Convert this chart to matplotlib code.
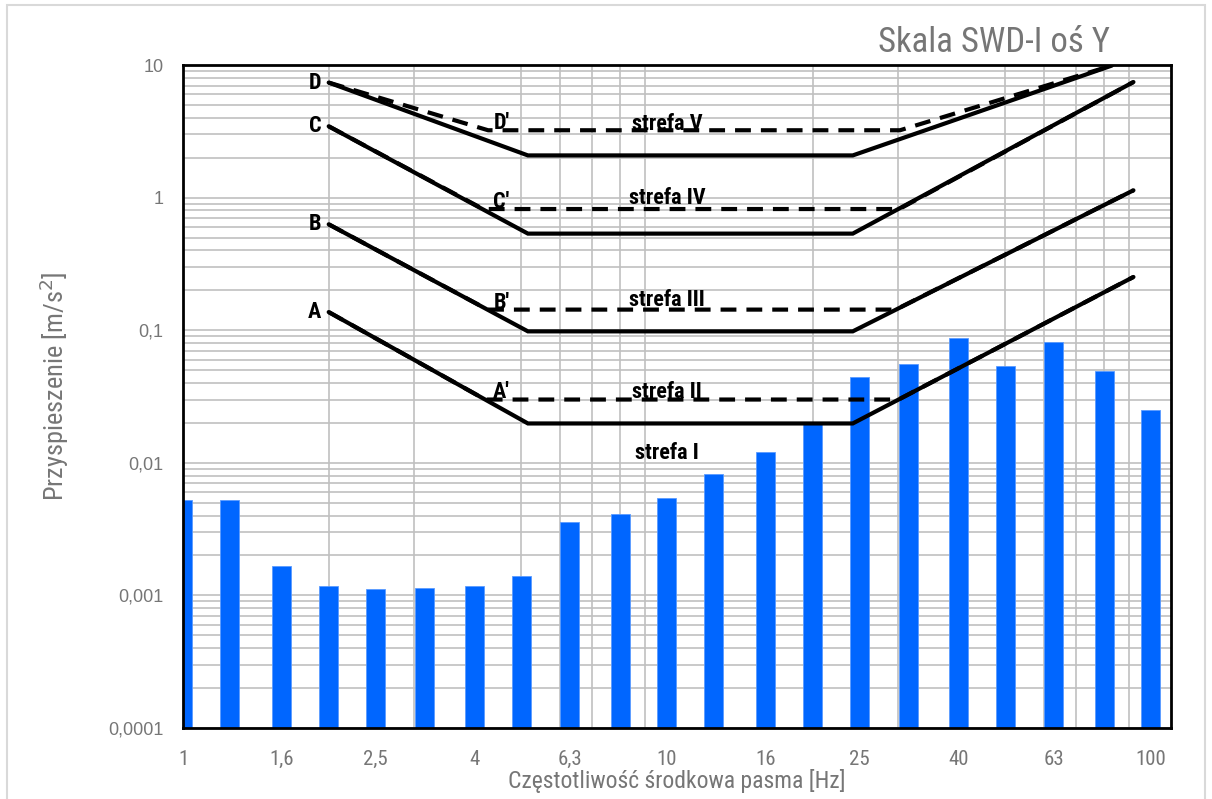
import numpy as np
import matplotlib
matplotlib.use("Agg")
import matplotlib.pyplot as plt
from matplotlib import font_manager as fm
from matplotlib.ticker import FixedLocator, FixedFormatter, LogLocator, NullFormatter
from matplotlib.patches import Rectangle

# ── Data ───────────────────────────────────────────────────────────────────────
# 1/3-octave band centre frequencies [Hz] and measured acceleration [m/s2]
freqs = [1, 1.25, 1.6, 2, 2.5, 3.15, 4, 5, 6.3, 8, 10, 12.5, 16, 20, 25,
         31.5, 40, 50, 63, 80, 100]
accel = [0.0052, 0.0052, 0.00166, 0.00118, 0.00111, 0.00113, 0.00118,
         0.00139, 0.0036, 0.0041, 0.0054, 0.0082, 0.0120, 0.0195, 0.044,
         0.056, 0.088, 0.0535, 0.082, 0.049, 0.025]

x_ticks = [1, 1.6, 2.5, 4, 6.3, 10, 16, 25, 40, 63, 100]
x_ticklabels = ['1', '1,6', '2,5', '4', '6,3', '10', '16', '25', '40', '63', '100']
y_ticks = [1e-4, 1e-3, 1e-2, 1e-1, 1, 10]
y_ticklabels = ['0,0001', '0,001', '0,01', '0,1', '1', '10']

# SWD-I zone boundaries A-D (solid)
bound_f = [2, 5.16, 24.2, 92]
bound_A = [0.137, 0.0198, 0.0198, 0.252]
bound_B = [0.629, 0.098, 0.098, 1.135]
bound_C = [3.45, 0.535, 0.535, 7.44]
bound_D_f = [2, 5.16, 24.2, 83]
bound_D = [7.37, 2.08, 2.08, 9.9]

# zone boundaries A'-D' (dashed)
bound_A2_f = [2, 4.21, 30.1, 92]
bound_A2 = [0.137, 0.030, 0.030, 0.252]
bound_B2_f = [2, 4.26, 29.7, 92]
bound_B2 = [0.629, 0.143, 0.143, 1.135]
bound_C2_f = [2, 4.17, 30.2, 92]
bound_C2 = [3.45, 0.82, 0.82, 7.44]
bound_D2_f = [2, 4.27, 30.3, 83]
bound_D2 = [7.37, 3.22, 3.22, 9.9]

zone_names = ['strefa V', 'strefa IV', 'strefa III', 'strefa II', 'strefa I']
zone_y = [3.6, 0.99, 0.168, 0.034, 0.0118]


# ── Fonts: look for a narrow sans, fall back to DejaVu ─────────────────────────
def find_narrow(weight):
    prefs = ['Liberation Sans Narrow', 'Roboto Condensed', 'Open Sans Condensed',
             'Noto Sans Condensed', 'DejaVu Sans', 'Noto Sans', 'Open Sans',
             'Roboto', 'Inter', 'Lato']
    cands = []
    for e in fm.fontManager.ttflist:
        fname = e.fname.lower()
        narrow = (e.stretch in ('condensed', 'semi-condensed', 'extra-condensed')
                  or 'condensed' in fname or 'narrow' in fname)
        if not narrow or 'italic' in fname or 'oblique' in fname or e.style != 'normal':
            continue
        w = e.weight if isinstance(e.weight, int) else (700 if 'bold' in str(e.weight) else 400)
        rank = prefs.index(e.name) if e.name in prefs else len(prefs)
        cands.append((rank, abs(w - weight), e.fname))
    if cands:
        cands.sort()
        return fm.FontProperties(fname=cands[0][2])
    return fm.FontProperties(family='DejaVu Sans', weight=weight)


def sized(base, size):
    p = base.copy()
    p.set_size(size)
    return p


NARROW = find_narrow(400)
NARROW_B = find_narrow(700)
REG = fm.FontProperties(family=['Liberation Sans', 'DejaVu Sans'])

BLUE = '#0066ff'
GRID = '#c0c0c0'
TXT = '#767676'

fig = plt.figure(figsize=(12.12, 7.99), dpi=100)
ax = fig.add_axes([183 / 1212, 71 / 799, 988 / 1212, 663 / 799])

ax.set_xscale('log')
ax.set_yscale('log')
ax.set_xlim(1, 110)
ax.set_ylim(1e-4, 10)

# bars: constant pixel width on the log axis
f = np.array(freqs)
half = 10 ** 0.0196
ax.bar(f / half, accel, width=f * half - f / half, align='edge',
       color=BLUE, edgecolor='#5a9bff', linewidth=0.6, zorder=2)

solid = dict(color='black', lw=3, solid_capstyle='round', solid_joinstyle='miter', zorder=4)
dashed = dict(color='black', lw=3, ls=(0, (3.8, 2.4)), zorder=5)
ax.plot(bound_f, bound_A, **solid)
ax.plot(bound_f, bound_B, **solid)
ax.plot(bound_f, bound_C, **solid)
ax.plot(bound_D_f, bound_D, **solid)
ax.plot(bound_A2_f, bound_A2, **dashed)
ax.plot(bound_B2_f, bound_B2, **dashed)
ax.plot(bound_C2_f, bound_C2, **dashed)
ax.plot(bound_D2_f, bound_D2, **dashed)

for name, v in zip(['A', 'B', 'C', 'D'], [bound_A[0], bound_B[0], bound_C[0], bound_D[0]]):
    ax.text(1.93, v, name, ha='right', va='center', fontproperties=sized(NARROW_B, 16), zorder=6)
for name, v in zip(["A'", "B'", "C'", "D'"], [bound_A2[1], bound_B2[1], bound_C2[1], bound_D2[1]]):
    ax.text(4.55, v * 1.13, name, ha='center', va='center', fontproperties=sized(NARROW_B, 16), zorder=6)
for name, v in zip(zone_names, zone_y):
    ax.text(10, v, name, ha='center', va='center', fontproperties=sized(NARROW_B, 16), zorder=6)

# grid
ax.xaxis.set_major_locator(FixedLocator(x_ticks))
ax.xaxis.set_major_formatter(FixedFormatter(x_ticklabels))
ax.xaxis.set_minor_locator(LogLocator(base=10, subs=np.arange(1, 10)))
ax.xaxis.set_minor_formatter(NullFormatter())
ax.yaxis.set_major_locator(FixedLocator(y_ticks))
ax.yaxis.set_major_formatter(FixedFormatter(y_ticklabels))
ax.yaxis.set_minor_locator(LogLocator(base=10, subs=np.arange(2, 10)))
ax.yaxis.set_minor_formatter(NullFormatter())
ax.grid(which='minor', axis='x', color=GRID, lw=1.2, zorder=0)
ax.grid(which='both', axis='y', color=GRID, lw=1.2, zorder=0)
ax.set_axisbelow(True)
ax.tick_params(which='both', length=0)
ax.tick_params(axis='x', pad=16, labelcolor=TXT)
ax.tick_params(axis='y', pad=14, labelcolor=TXT)
for t in ax.get_xticklabels():
    t.set_fontproperties(sized(NARROW, 15))
for t in ax.get_yticklabels():
    t.set_fontproperties(sized(REG, 13))

for s in ax.spines.values():
    s.set_color('black')
    s.set_linewidth(2)

ax.set_xlabel('Częstotliwość środkowa pasma [Hz]', fontproperties=sized(NARROW, 17),
              color=TXT, labelpad=0)
ax.set_ylabel('Przyspieszenie [m/s$^2$]', fontproperties=sized(NARROW, 19),
              color=TXT, labelpad=18)
ax.yaxis.set_label_coords(-0.113, 0.515)

fig.text(1110 / 1212, 1 - 42 / 799, 'Skala SWD-I oś Y', ha='right', va='center',
         fontproperties=sized(NARROW, 25), color=TXT)

# light frame around the chart area
fig.patches.append(Rectangle((7 / 1212, -0.02), 1198 / 1212, 1.02 - 5 / 799,
                             transform=fig.transFigure, fill=False,
                             edgecolor='#d9d9d9', lw=1.5))

fig.savefig('out.png', dpi=100)
